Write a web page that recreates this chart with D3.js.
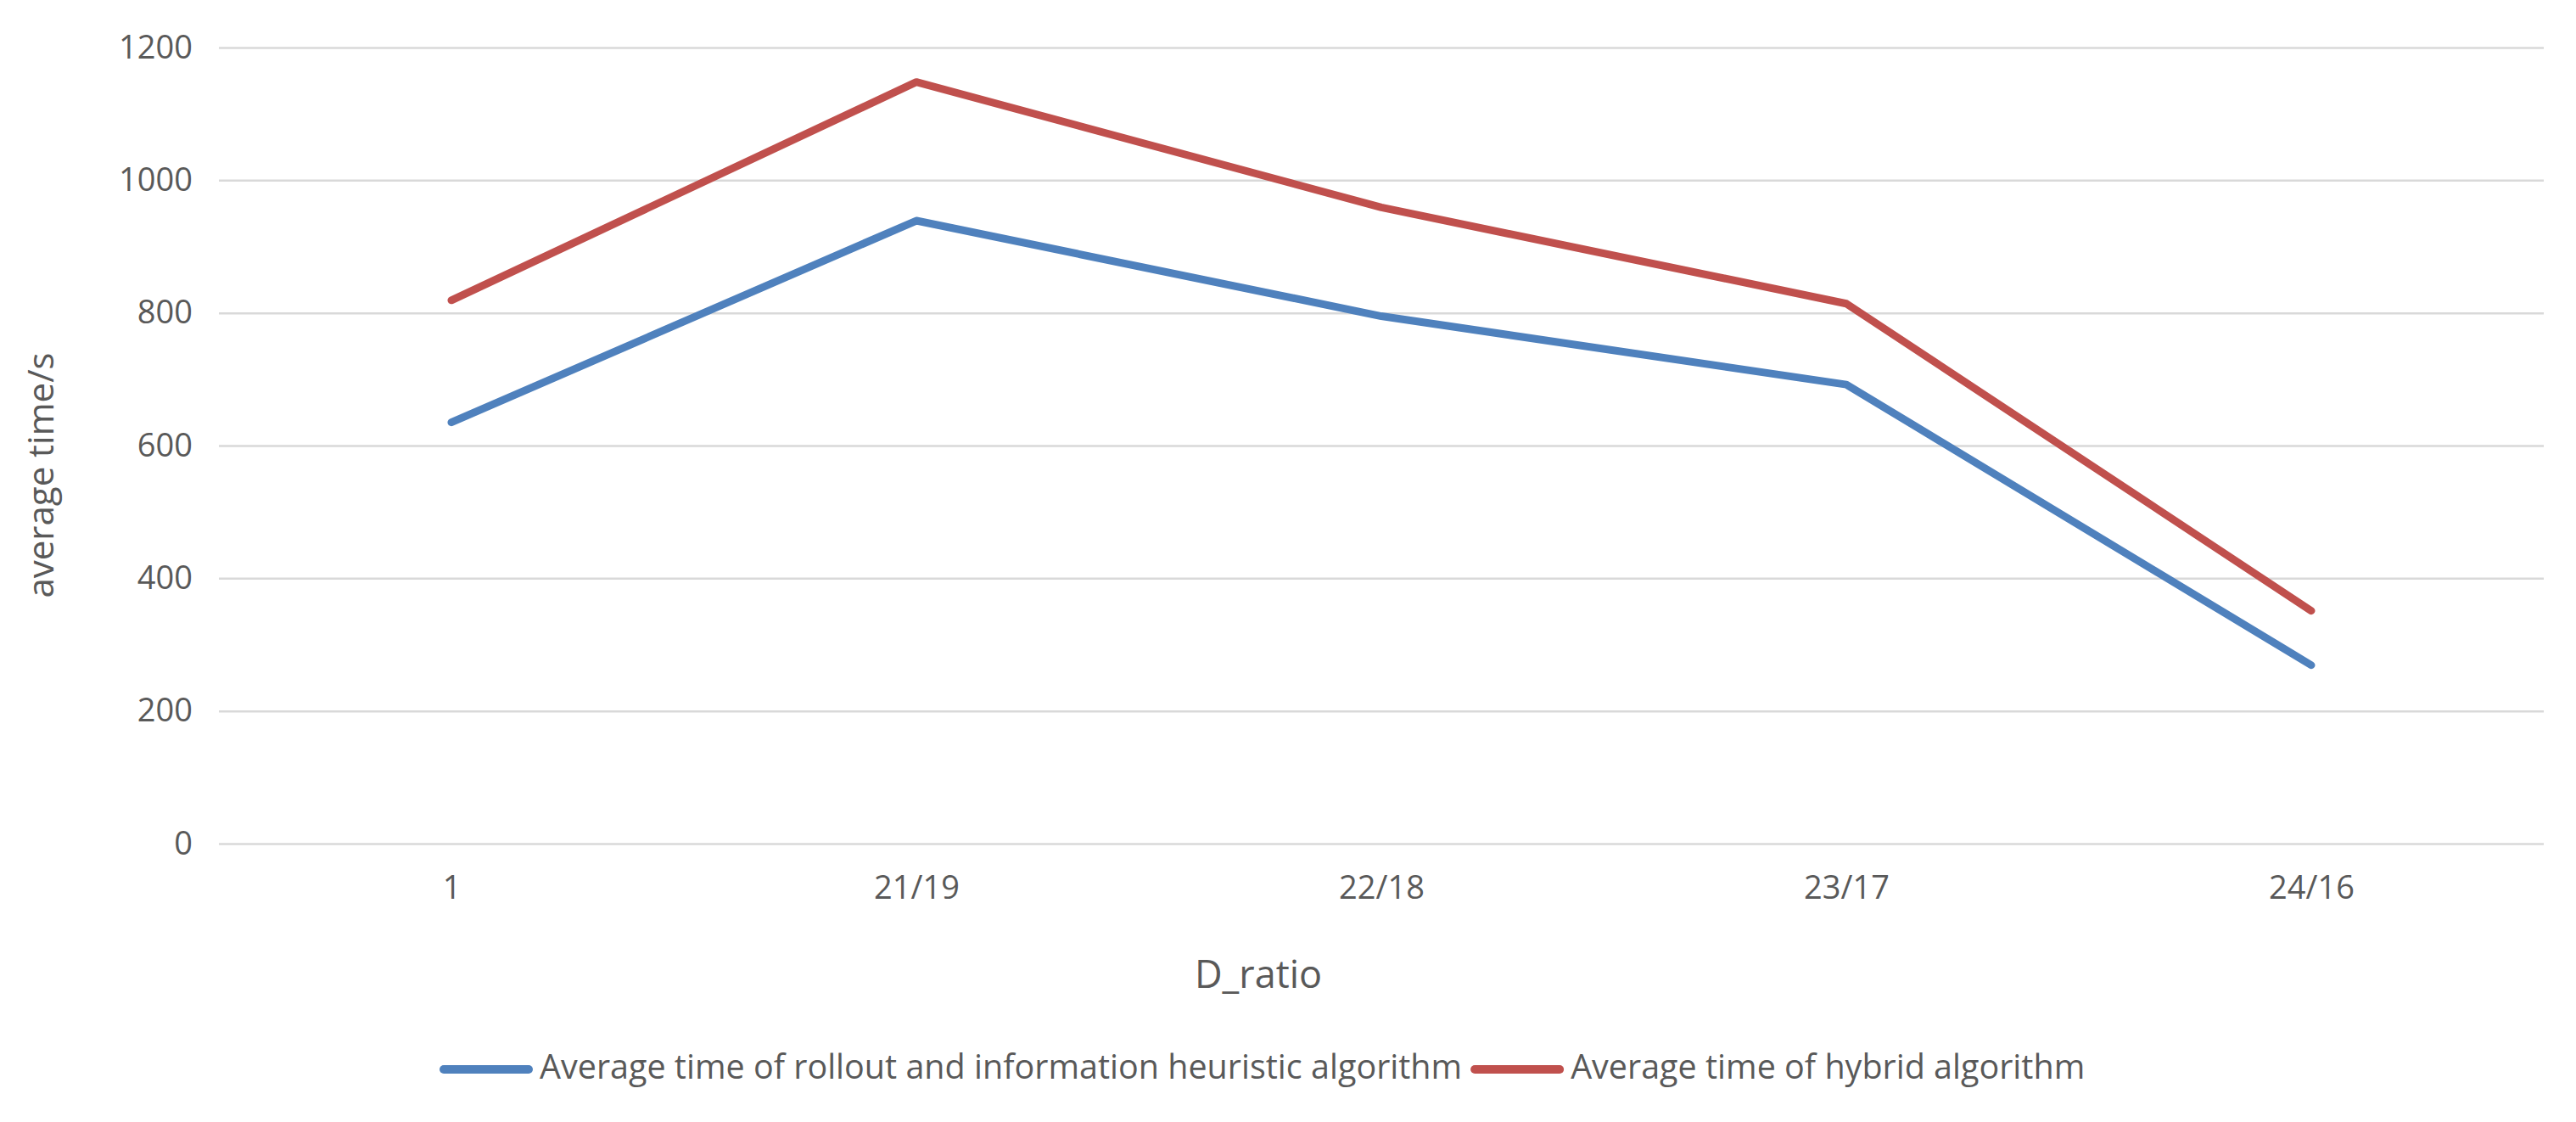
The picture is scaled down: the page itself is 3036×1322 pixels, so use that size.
<!DOCTYPE html>
<html><head><meta charset="utf-8">
<script src="https://cdn.jsdelivr.net/npm/d3@7"></script>
<style>
html,body{margin:0;padding:0;background:#fff;}
text{font-family:"Open Sans",sans-serif;fill:#595959;}
</style></head>
<body>
<svg id="chart" width="3036" height="1322"></svg>
<script>
const categories = ["1","21/19","22/18","23/17","24/16"];
const seriesNames = ["Average time of rollout and information heuristic algorithm","Average time of hybrid algorithm"];
const rolloutValues = [635, 939, 795, 692, 269];
const hybridValues = [819, 1148, 959, 814, 351];
const yTicks = [0,200,400,600,800,1000,1200];
const colors = ["#4F81BD","#C0504D"];

(function(){
const svg = d3.select("#chart");
const pLeft = 258, pRight = 2998, pTop = 56, pBottom = 994;
const x = d3.scalePoint().domain(categories).range([pLeft, pRight]).padding(0.5);
const y = d3.scaleLinear().domain([0,1200]).range([pBottom, pTop]);

const yAxis = d3.axisLeft(y).tickValues(yTicks).tickFormat(d3.format("d"))
  .tickSize(-(pRight-pLeft)).tickPadding(31);
const gy = svg.append("g").attr("transform",`translate(${pLeft},0)`).call(yAxis);
gy.select(".domain").remove();
gy.selectAll(".tick line").attr("stroke","#D9D9D9").attr("stroke-width",2.5);
gy.selectAll(".tick text").attr("font-size",38).attr("fill","#595959").attr("font-family","Open Sans");

const xAxis = d3.axisBottom(x).tickSize(0).tickPadding(38);
const gx = svg.append("g").attr("transform",`translate(0,${pBottom})`).call(xAxis);
gx.select(".domain").remove();
gx.selectAll(".tick text").attr("font-size",38).attr("fill","#595959").attr("font-family","Open Sans");

const series = [rolloutValues, hybridValues];
const line = d3.line().x((d,i)=>x(categories[i])).y(d=>y(d));
series.forEach((vals,k)=>{
  svg.append("path").datum(vals).attr("d",line)
    .attr("fill","none").attr("stroke",colors[k]).attr("stroke-width",9)
    .attr("stroke-linecap","round").attr("stroke-linejoin","round");
});

svg.append("text").attr("transform",`translate(52,560) rotate(-90)`)
  .attr("text-anchor","middle").attr("dominant-baseline","middle")
  .attr("font-size",42).text("average time/s");
svg.append("text").attr("x",1483).attr("y",1152)
  .attr("text-anchor","middle").attr("dominant-baseline","middle")
  .attr("font-size",45).text("D_ratio");

const legendY = 1260;
let lx = 518;
series.forEach((vals,k)=>{
  const g = svg.append("g").attr("transform",`translate(${lx},${legendY})`);
  g.append("line").attr("x1",5).attr("x2",105).attr("y1",0).attr("y2",0)
    .attr("stroke",colors[k]).attr("stroke-width",10).attr("stroke-linecap","round");
  const t = g.append("text").attr("x",118).attr("y",0).attr("dominant-baseline","middle")
    .attr("font-size",39.5).text(seriesNames[k]);
  lx += 118 + t.node().getComputedTextLength() + 10;
});
})();
</script>
</body></html>
